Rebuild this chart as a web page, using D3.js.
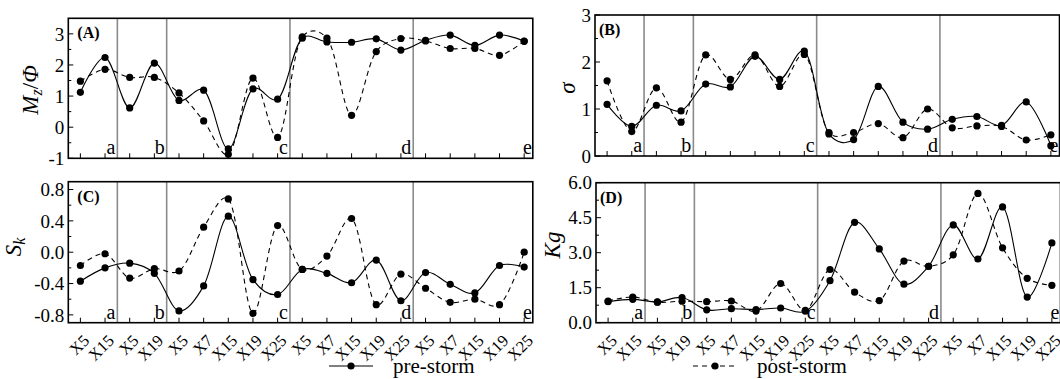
<!DOCTYPE html>
<html>
<head>
<meta charset="utf-8">
<script src="https://cdn.jsdelivr.net/npm/d3@7"></script>
<style>
  body { margin: 0; background: #fff; }
  text { font-family: "Liberation Serif", "Times New Roman", serif; fill: #000; }
</style>
</head>
<body>
<div id="chart"></div>
<script>
// sampling sites along the 5 transects (a..e)
const sites = ["X5","X15","X5","X19","X5","X7","X15","X19","X25","X5","X7","X15","X19","X25","X5","X7","X15","X19","X25"];
const groupLabels = ["a","b","c","d","e"];
const groupEnds = [1, 3, 8, 13, 18];   // last site index of each transect

// (A) mean grain size Mz/Phi
const mzPre  = [1.12, 2.24, 0.62, 2.06, 0.86, 1.19, -0.70, 1.23, 0.90, 2.86, 2.74, 2.73, 2.84, 2.48, 2.79, 2.96, 2.63, 2.96, 2.76];
const mzPost = [1.48, 1.86, 1.60, 1.60, 1.10, 0.20, -0.87, 1.58, -0.33, 2.90, 2.86, 0.38, 2.43, 2.85, 2.77, 2.53, 2.53, 2.31, 2.77];
// (B) sorting sigma
const sdPre  = [1.10, 0.63, 1.08, 0.96, 1.53, 1.47, 2.12, 1.63, 2.23, 0.47, 0.35, 1.48, 0.72, 0.57, 0.78, 0.84, 0.65, 1.15, 0.22];
const sdPost = [1.60, 0.52, 1.45, 0.72, 2.15, 1.63, 2.15, 1.48, 2.16, 0.50, 0.50, 0.69, 0.39, 1.00, 0.60, 0.64, 0.63, 0.34, 0.45];
// (C) skewness Sk
const skPre  = [-0.37, -0.20, -0.14, -0.27, -0.75, -0.43, 0.46, -0.35, -0.54, -0.22, -0.27, -0.39, -0.10, -0.62, -0.26, -0.41, -0.52, -0.17, -0.19];
const skPost = [-0.17, -0.02, -0.33, -0.21, -0.24, 0.32, 0.68, -0.78, 0.34, -0.22, -0.05, 0.43, -0.67, -0.28, -0.46, -0.64, -0.60, -0.67, 0.00];
// (D) kurtosis Kg
const kgPre  = [0.90, 1.00, 0.89, 1.08, 0.55, 0.60, 0.56, 0.63, 0.49, 1.80, 4.30, 3.16, 1.65, 2.42, 4.19, 2.73, 4.96, 1.10, 3.42];
const kgPost = [0.93, 1.10, 0.88, 0.92, 0.90, 0.93, 0.50, 1.68, 0.53, 2.28, 1.31, 0.95, 2.64, 2.42, 2.91, 5.54, 3.21, 1.90, 1.60];

const W = 1060, H = 379;
const svg = d3.select("#chart").append("svg")
    .attr("width", W).attr("height", H);

const panels = [
  { tag: "(A)", x0: 68.3, x1: 532.8, y0: 18.3, y1: 158.3, dom: [-1, 3.5],
    major: [-1, 0, 1, 2, 3], minor: [-0.5, 0.5, 1.5, 2.5], fmt: d3.format("d"),
    pre: mzPre, post: mzPost, title: "mz", tx: 38, ty: 90 },
  { tag: "(B)", x0: 595, x1: 1059.5, y0: 15, y1: 156, dom: [0, 3],
    major: [0, 1, 2, 3], minor: [0.5, 1.5, 2.5], fmt: d3.format("d"),
    pre: sdPre, post: sdPost, title: "sigma", tx: 575, ty: 88 },
  { tag: "(C)", x0: 68.3, x1: 532.8, y0: 181.7, y1: 322.7, dom: [-0.9, 0.9],
    major: [-0.8, -0.4, 0, 0.4, 0.8], minor: [-0.6, -0.2, 0.2, 0.6], fmt: d3.format(".1f"),
    pre: skPre, post: skPost, title: "sk", tx: 21, ty: 247 },
  { tag: "(D)", x0: 596, x1: 1060.5, y0: 182.7, y1: 322.7, dom: [0, 6],
    major: [0, 1.5, 3, 4.5, 6], minor: [0.75, 2.25, 3.75, 5.25], fmt: d3.format(".1f"),
    pre: kgPre, post: kgPost, title: "kg", tx: 560, ty: 245 }
];

const fmtMinus = f => v => f(v).replace("\u2212", "-");

panels.forEach((p, k) => {
  const x = d3.scaleLinear().domain([-0.49, 18.35]).range([p.x0, p.x1]);
  const y = d3.scaleLinear().domain(p.dom).range([p.y1, p.y0]);
  const g = svg.append("g");

  const clipId = "clip" + k;
  svg.append("clipPath").attr("id", clipId)
    .append("rect").attr("x", p.x0).attr("y", p.y0)
    .attr("width", p.x1 - p.x0).attr("height", p.y1 - p.y0);

  // transect separators
  g.selectAll(".sep").data(groupEnds.slice(0, 4)).enter().append("line")
    .attr("x1", d => x(d + 0.5)).attr("x2", d => x(d + 0.5))
    .attr("y1", p.y0).attr("y2", p.y1)
    .attr("stroke", "#8a8a8a").attr("stroke-width", 1.6);

  // transect letters
  g.selectAll(".lab").data(groupEnds).enter().append("text")
    .attr("x", (d, i) => i < 4 ? x(d + 0.5) - 2 : p.x1 - 1)
    .attr("y", p.y1 - 4)
    .attr("text-anchor", "end")
    .attr("font-size", 20)
    .text((d, i) => groupLabels[i]);

  const line = d3.line()
    .x((v, i) => x(i)).y(v => y(v))
    .curve(d3.curveCatmullRom.alpha(0.25));

  const plot = g.append("g").attr("clip-path", `url(#${clipId})`);
  plot.append("path").datum(p.post)
    .attr("d", line).attr("fill", "none")
    .attr("stroke", "#000").attr("stroke-width", 1.1)
    .attr("stroke-dasharray", "5,4");
  plot.append("path").datum(p.pre)
    .attr("d", line).attr("fill", "none")
    .attr("stroke", "#000").attr("stroke-width", 1.1);

  [p.post, p.pre].forEach(series => {
    plot.selectAll(null).data(series).enter().append("circle")
      .attr("cx", (v, i) => x(i)).attr("cy", v => y(v))
      .attr("r", 3.6).attr("fill", "#000");
  });

  // frame
  g.append("rect")
    .attr("x", p.x0).attr("y", p.y0)
    .attr("width", p.x1 - p.x0).attr("height", p.y1 - p.y0)
    .attr("fill", "none").attr("stroke", "#000").attr("stroke-width", 1.6);

  // x ticks (inward) and rotated labels
  const idx = d3.range(sites.length);
  g.selectAll(".xt").data(idx).enter().append("line")
    .attr("x1", i => x(i)).attr("x2", i => x(i))
    .attr("y1", p.y1).attr("y2", p.y1 - 5)
    .attr("stroke", "#000").attr("stroke-width", 1);
  if (k >= 2) {
    g.selectAll(".xl").data(idx).enter().append("text")
      .attr("transform", i => `translate(${x(i) + 10},${p.y1 + 19}) rotate(-45)`)
      .attr("text-anchor", "end")
      .attr("font-size", 16.5)
      .text(i => sites[i]);
  }

  // y ticks
  g.selectAll(".yt").data(p.major).enter().append("line")
    .attr("x1", p.x0).attr("x2", p.x0 + 5)
    .attr("y1", d => y(d)).attr("y2", d => y(d))
    .attr("stroke", "#000").attr("stroke-width", 1);
  g.selectAll(".ym").data(p.minor).enter().append("line")
    .attr("x1", p.x0).attr("x2", p.x0 + 3)
    .attr("y1", d => y(d)).attr("y2", d => y(d))
    .attr("stroke", "#000").attr("stroke-width", 1);
  g.selectAll(".yl").data(p.major).enter().append("text")
    .attr("x", p.x0 - 4).attr("y", d => y(d))
    .attr("dy", "0.35em")
    .attr("text-anchor", "end")
    .attr("font-size", 19)
    .text(fmtMinus(p.fmt));

  // panel tag
  g.append("text")
    .attr("x", p.x0 + (k % 2 ? 4 : 9)).attr("y", p.y0 + 20)
    .attr("font-size", 16).attr("font-weight", "bold")
    .text(p.tag);

  // y title
  const t = g.append("text")
    .attr("transform", `translate(${p.tx},${p.ty}) rotate(-90)`)
    .attr("text-anchor", "middle")
    .attr("font-size", 23);
  if (p.title === "mz") {
    t.append("tspan").attr("font-style", "italic").text("M");
    t.append("tspan").attr("font-style", "italic").attr("font-size", 16).attr("dy", 4).text("z");
    t.append("tspan").attr("dy", -4).text("/");
    t.append("tspan").attr("font-style", "italic").text("\u03A6");
  } else if (p.title === "sigma") {
    t.append("tspan").attr("font-style", "italic").text("\u03C3");
  } else if (p.title === "sk") {
    t.append("tspan").attr("font-style", "italic").text("S");
    t.append("tspan").attr("font-style", "italic").attr("font-size", 16).attr("dy", 4).text("k");
  } else {
    t.append("tspan").attr("font-style", "italic").text("Kg");
  }
});

// legend
const legend = [
  { label: "pre-storm", x: 329, dash: null },
  { label: "post-storm", x: 693, dash: "5,4" }
];
legend.forEach(l => {
  svg.append("line")
    .attr("x1", l.x).attr("x2", l.x + 44)
    .attr("y1", 366).attr("y2", 366)
    .attr("stroke", "#000").attr("stroke-width", 1.1)
    .attr("stroke-dasharray", l.dash);
  svg.append("circle")
    .attr("cx", l.x + 22).attr("cy", 366).attr("r", 3.6).attr("fill", "#000");
  svg.append("text")
    .attr("x", l.x + 64).attr("y", 373)
    .attr("font-size", 21)
    .text(l.label);
});
</script>
</body>
</html>
